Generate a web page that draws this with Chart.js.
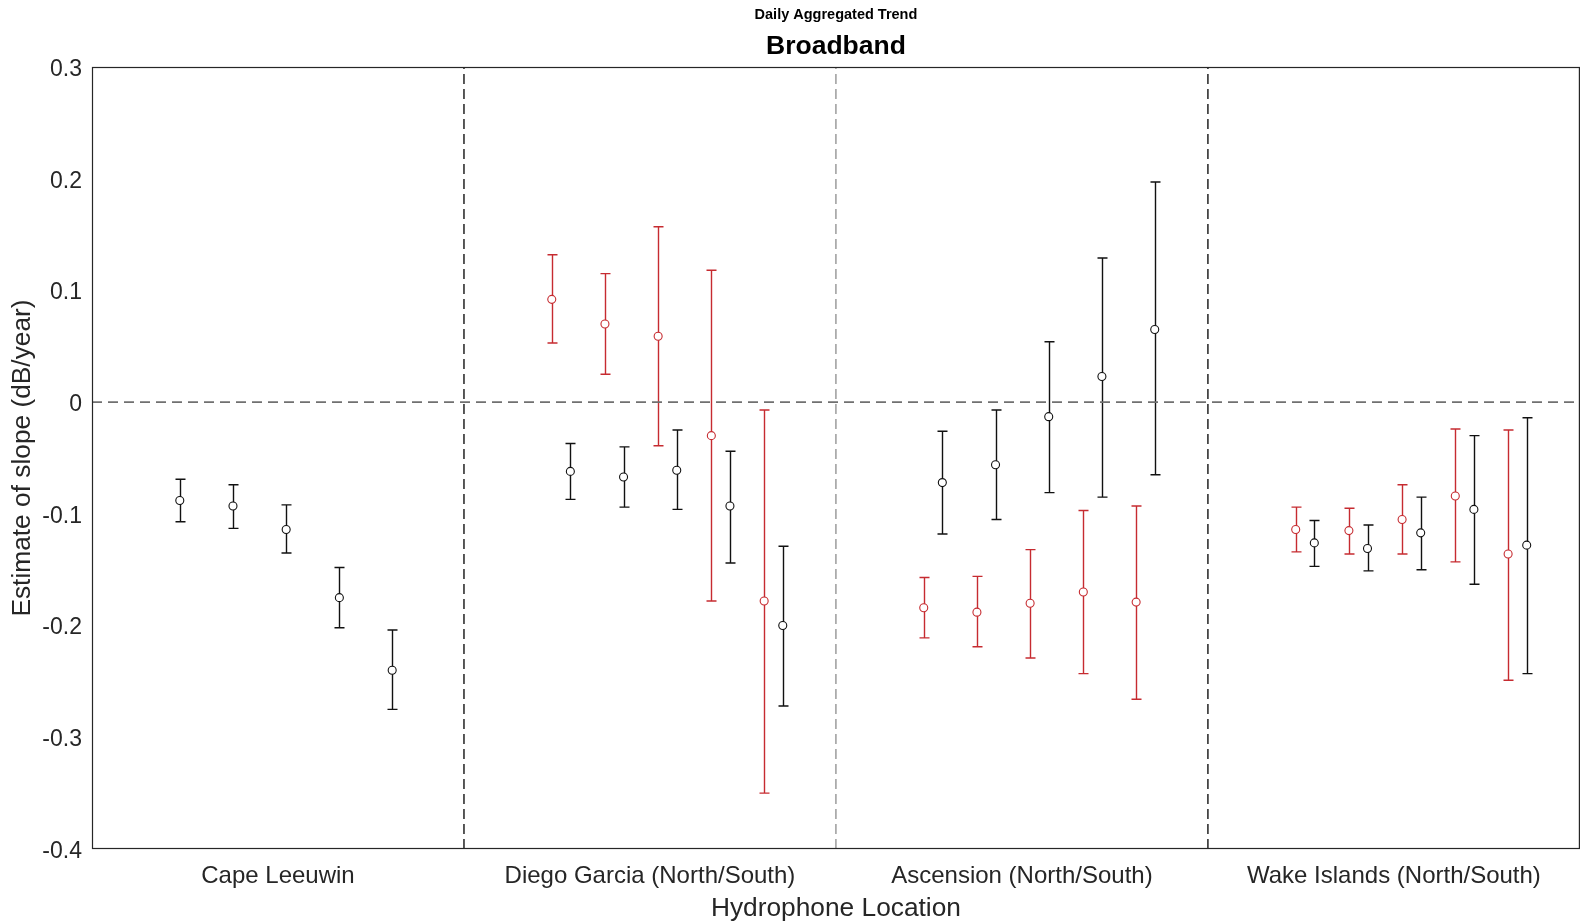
<!DOCTYPE html>
<html>
<head>
<meta charset="utf-8">
<script src="https://cdn.jsdelivr.net/npm/chart.js@4.4.1/dist/chart.umd.min.js"></script>
<style>
  html, body { margin: 0; padding: 0; background: #fff; overflow: hidden; }
  canvas { display: block; }
</style>
</head>
<body>
<canvas id="trend" width="1585" height="923"></canvas>
<script>
const groups = ['Cape Leeuwin', 'Diego Garcia (North/South)', 'Ascension (North/South)', 'Wake Islands (North/South)'];

// where the five estimates sit inside a group (axis units), south pair shifted right
const slotOffsets = [-0.264, -0.121, 0.022, 0.165, 0.307];
const pairShift = 0.05;

const capeMean = [-0.088, -0.093, -0.114, -0.175, -0.240];
const capeLow  = [-0.107, -0.113, -0.135, -0.202, -0.275];
const capeHigh = [-0.069, -0.074, -0.092, -0.148, -0.204];

const diegoNorthMean = [0.092, 0.070, 0.059, -0.030, -0.178];
const diegoNorthLow  = [0.053, 0.025, -0.039, -0.178, -0.350];
const diegoNorthHigh = [0.132, 0.115, 0.157, 0.118, -0.007];
const diegoSouthMean = [-0.062, -0.067, -0.061, -0.093, -0.200];
const diegoSouthLow  = [-0.087, -0.094, -0.096, -0.144, -0.272];
const diegoSouthHigh = [-0.037, -0.040, -0.025, -0.044, -0.129];

const ascNorthMean = [-0.184, -0.188, -0.180, -0.170, -0.179];
const ascNorthLow  = [-0.211, -0.219, -0.229, -0.243, -0.266];
const ascNorthHigh = [-0.157, -0.156, -0.132, -0.097, -0.093];
const ascSouthMean = [-0.072, -0.056, -0.013, 0.023, 0.065];
const ascSouthLow  = [-0.118, -0.105, -0.081, -0.085, -0.065];
const ascSouthHigh = [-0.026, -0.007, 0.054, 0.129, 0.197];

const wakeNorthMean = [-0.114, -0.115, -0.105, -0.084, -0.136];
const wakeNorthLow  = [-0.134, -0.136, -0.136, -0.143, -0.249];
const wakeNorthHigh = [-0.094, -0.095, -0.074, -0.024, -0.025];
const wakeSouthMean = [-0.126, -0.131, -0.117, -0.096, -0.128];
const wakeSouthLow  = [-0.147, -0.151, -0.150, -0.163, -0.243];
const wakeSouthHigh = [-0.106, -0.110, -0.085, -0.030, -0.014];

const dividers = [1.5, 2.5, 3.5];
const zeroLevel = 0;

const RED = '#c62b30';
const BLACK = '#111111';
const AXIS = '#262626';

Chart.defaults.font.family = "'Liberation Sans', Arial, sans-serif";
Chart.defaults.color = AXIS;

function series(group, shift, mean, low, high, color) {
  return {
    data: mean.map((m, k) => ({ x: group + slotOffsets[k] + shift, y: m })),
    low: low,
    high: high,
    borderColor: color,
    backgroundColor: '#ffffff',
    pointRadius: 4,
    pointBorderWidth: 1.1,
    showLine: false
  };
}

// vertical bars with caps, drawn under the circles
const errorBars = {
  id: 'errorBars',
  beforeDatasetsDraw(chart) {
    const { ctx, scales: { x, y } } = chart;
    chart.data.datasets.forEach(ds => {
      if (!ds.low) return;
      ctx.save();
      ctx.strokeStyle = ds.borderColor;
      ctx.lineWidth = 1.4;
      ds.data.forEach((p, k) => {
        const px = Math.round(x.getPixelForValue(p.x)) + 0.5;
        const top = y.getPixelForValue(ds.high[k]);
        const bot = y.getPixelForValue(ds.low[k]);
        ctx.beginPath();
        ctx.moveTo(px, top); ctx.lineTo(px, bot);
        ctx.moveTo(px - 5, top); ctx.lineTo(px + 5, top);
        ctx.moveTo(px - 5, bot); ctx.lineTo(px + 5, bot);
        ctx.stroke();
      });
      ctx.restore();
    });
  }
};

// axes box
const frame = {
  id: 'frame',
  afterDraw(chart) {
    const { ctx, chartArea: a } = chart;
    ctx.save();
    ctx.strokeStyle = AXIS;
    ctx.lineWidth = 1.2;
    ctx.strokeRect(a.left + 0.5, a.top + 0.5, a.width - 1, a.height - 1);
    ctx.restore();
  }
};

const dividerColors = ['#000000', '#6a6a6a', '#000000'];
const dividerWidths = [1.3, 1, 1.3];
const guideLines = dividers.map((v, i) => ({
  type: 'line',
  data: [{ x: v, y: -0.4 }, { x: v, y: 0.3 }],
  borderColor: dividerColors[i],
  borderWidth: dividerWidths[i],
  borderDash: [10, 5],
  pointRadius: 0,
  showLine: true
}));
guideLines.push({
  type: 'line',
  data: [{ x: 0.5, y: zeroLevel }, { x: 4.5, y: zeroLevel }],
  borderColor: '#707070',
  borderWidth: 1.7,
  borderDash: [10, 6],
  pointRadius: 0,
  showLine: true
});

new Chart(document.getElementById('trend'), {
  type: 'scatter',
  data: {
    datasets: [
      ...guideLines,
      series(1, 0, capeMean, capeLow, capeHigh, BLACK),
      series(2, 0, diegoNorthMean, diegoNorthLow, diegoNorthHigh, RED),
      series(2, pairShift, diegoSouthMean, diegoSouthLow, diegoSouthHigh, BLACK),
      series(3, 0, ascNorthMean, ascNorthLow, ascNorthHigh, RED),
      series(3, pairShift, ascSouthMean, ascSouthLow, ascSouthHigh, BLACK),
      series(4, 0, wakeNorthMean, wakeNorthLow, wakeNorthHigh, RED),
      series(4, pairShift, wakeSouthMean, wakeSouthLow, wakeSouthHigh, BLACK)
    ]
  },
  options: {
    responsive: false,
    animation: false,
    devicePixelRatio: 1,
    layout: { padding: { right: 2 } },
    plugins: {
      legend: { display: false },
      tooltip: { enabled: false },
      title: {
        display: true,
        fullSize: false,
        text: 'Daily Aggregated Trend',
        color: '#000',
        font: { size: 14.5, weight: 'bold', lineHeight: 1.2 },
        padding: { top: 6, bottom: 9.8 }
      },
      subtitle: {
        display: true,
        fullSize: false,
        text: 'Broadband',
        color: '#000',
        font: { size: 26.5, weight: 'bold', lineHeight: 1 },
        padding: { top: 0, bottom: 7.3 }
      }
    },
    scales: {
      x: {
        type: 'linear',
        min: 0.5,
        max: 4.5,
        grid: { display: false, drawTicks: false },
        border: { display: false },
        afterBuildTicks: s => { s.ticks = [1, 2, 3, 4].map(v => ({ value: v })); },
        afterFit: s => { s.height = 74; s.paddingLeft = 0; s.paddingRight = 0; },
        ticks: {
          autoSkip: false,
          maxRotation: 0,
          padding: 13,
          font: { size: 24 },
          callback: v => groups[Math.round(v) - 1]
        },
        title: {
          display: true,
          text: 'Hydrophone Location',
          font: { size: 26.3, lineHeight: 1.08 },
          padding: { top: 0, bottom: 0 }
        }
      },
      y: {
        min: -0.4,
        max: 0.3,
        grid: { display: false, drawTicks: false },
        border: { display: false },
        afterFit: s => { s.width = 92; },
        ticks: {
          stepSize: 0.1,
          padding: 10,
          labelOffset: 2.5,
          font: { size: 23 },
          callback: v => String(Number(v.toFixed(1)))
        },
        title: {
          display: true,
          text: 'Estimate of slope (dB/year)',
          font: { size: 26.3, lineHeight: 1.2 },
          padding: { top: 7.2, bottom: 0 }
        }
      }
    }
  },
  plugins: [errorBars, frame]
});
</script>
</body>
</html>
